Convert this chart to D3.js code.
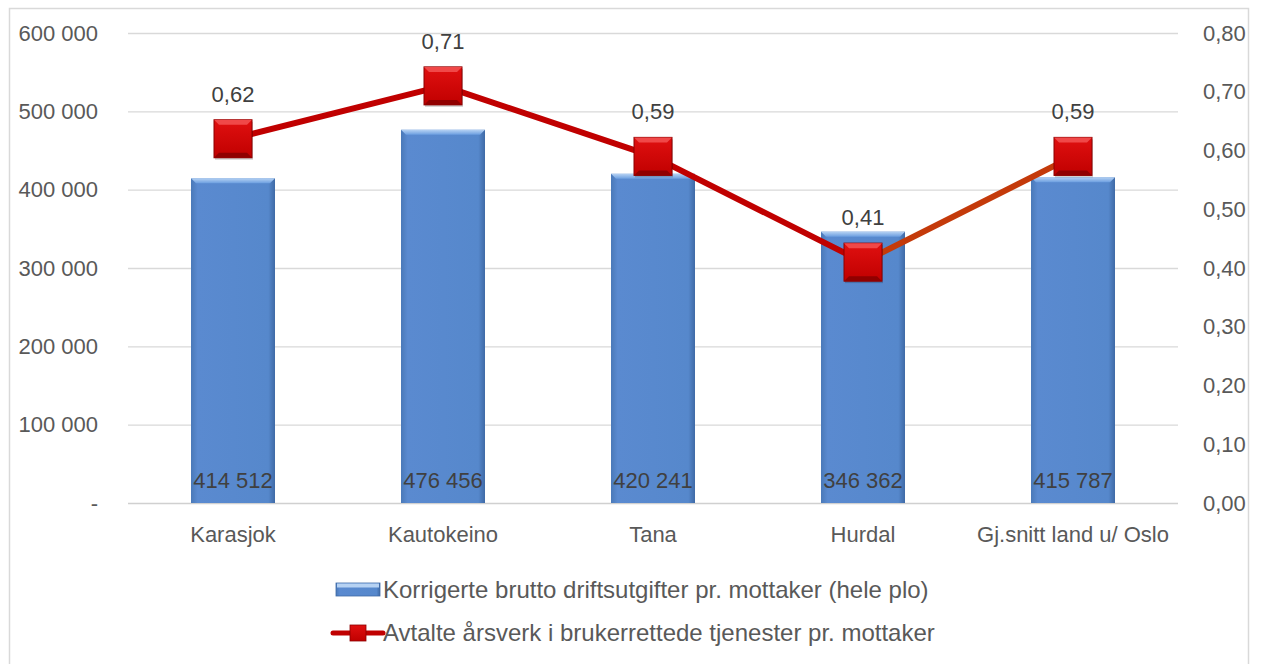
<!DOCTYPE html>
<html>
<head>
<meta charset="utf-8">
<script src="https://cdn.jsdelivr.net/npm/d3@7"></script>
<style>
  body { margin: 0; background: #fff; overflow: hidden; }
  text { font-family: "Liberation Sans", Arial, sans-serif; fill: #595959; }
</style>
</head>
<body>
<div id="chart"></div>
<script>
var categories = ['Karasjok', 'Kautokeino', 'Tana', 'Hurdal', 'Gj.snitt land u/ Oslo'];
var utgifter = [414512, 476456, 420241, 346362, 415787];
var arsverk = [0.62, 0.71, 0.59, 0.41, 0.59];
var leftTicks = [0, 100000, 200000, 300000, 400000, 500000, 600000];
var rightTicks = [0, 0.1, 0.2, 0.3, 0.4, 0.5, 0.6, 0.7, 0.8];
var legendNames = ['Korrigerte brutto driftsutgifter pr. mottaker (hele plo)',
                   'Avtalte årsverk i brukerrettede tjenester pr. mottaker'];

var W = 1263, H = 664;
var plotL = 128, plotR = 1178, plotT = 33, plotB = 503;

var svg = d3.select('#chart').append('svg')
  .attr('width', W).attr('height', H).style('display', 'block');

var defs = svg.append('defs');
var bg = defs.append('linearGradient').attr('id', 'barGrad')
  .attr('x1', 0).attr('x2', 1).attr('y1', 0).attr('y2', 0);
bg.append('stop').attr('offset', '0%').attr('stop-color', '#4a79b8');
bg.append('stop').attr('offset', '8%').attr('stop-color', '#5a8ad0');
bg.append('stop').attr('offset', '92%').attr('stop-color', '#5688cc');
bg.append('stop').attr('offset', '100%').attr('stop-color', '#3f6aa6');
var tg = defs.append('linearGradient').attr('id', 'topGrad')
  .attr('x1', 0).attr('x2', 0).attr('y1', 0).attr('y2', 1);
tg.append('stop').attr('offset', '0%').attr('stop-color', '#b6d2f3');
tg.append('stop').attr('offset', '100%').attr('stop-color', '#6b9ee0');
var mg = defs.append('linearGradient').attr('id', 'mkGrad')
  .attr('x1', 0).attr('x2', 0).attr('y1', 0).attr('y2', 1);
mg.append('stop').attr('offset', '0%').attr('stop-color', '#e01010');
mg.append('stop').attr('offset', '100%').attr('stop-color', '#c00000');

// chart border
svg.append('rect').attr('x', 9.5).attr('y', 8.5).attr('width', 1239).attr('height', 670)
  .attr('fill', 'none').attr('stroke', '#d9d9d9').attr('stroke-width', 1.5);

var x = d3.scaleBand().domain(categories).range([plotL, plotR]).paddingInner(0.6).paddingOuter(0.3);
var xc = d3.scaleBand().domain(categories).range([plotL, plotR]);
var yL = d3.scaleLinear().domain([0, 600000]).range([plotB, plotT]);
var yR = d3.scaleLinear().domain([0, 0.8]).range([plotB, plotT]);

var fmtL = function(d) { return d === 0 ? '-' : d3.format(',')(d).replace(/,/g, ' '); };
var fmtR = function(d) { return d.toFixed(2).replace('.', ','); };

// gridlines
svg.append('g').selectAll('line').data(leftTicks).enter().append('line')
  .attr('x1', plotL).attr('x2', plotR)
  .attr('y1', function(d) { return yL(d) + 0.5; }).attr('y2', function(d) { return yL(d) + 0.5; })
  .attr('stroke', function(d) { return d === 0 ? '#d0d0d0' : '#d9d9d9'; }).attr('stroke-width', 1.3);

// left axis
var axL = svg.append('g').attr('transform', 'translate(' + (plotL - 27) + ',0)')
  .call(d3.axisLeft(yL).tickValues(leftTicks).tickFormat(fmtL).tickSize(0));
axL.select('.domain').remove();
axL.selectAll('text').style('font-size', '22px').attr('fill', '#595959');

// right axis
var axR = svg.append('g').attr('transform', 'translate(' + (plotR + 22) + ',0)')
  .call(d3.axisRight(yR).tickValues(rightTicks).tickFormat(fmtR).tickSize(0));
axR.select('.domain').remove();
axR.selectAll('text').style('font-size', '22px').attr('fill', '#595959');

// x axis labels
var axB = svg.append('g').attr('transform', 'translate(0,' + (plotB + 20) + ')')
  .call(d3.axisBottom(xc).tickSize(0));
axB.select('.domain').remove();
axB.selectAll('text').style('font-size', '22px').attr('fill', '#595959');

// bars
var bars = svg.append('g').selectAll('g').data(categories).enter().append('g');
bars.append('rect')
  .attr('x', function(d) { return x(d); })
  .attr('y', function(d, i) { return yL(utgifter[i]); })
  .attr('width', x.bandwidth())
  .attr('height', function(d, i) { return plotB - yL(utgifter[i]); })
  .attr('fill', 'url(#barGrad)');
bars.append('path')
  .attr('d', function(d, i) {
    var x0 = x(d), x1 = x(d) + x.bandwidth(), y0 = yL(utgifter[i]);
    return 'M' + x0 + ',' + y0 + 'L' + x1 + ',' + y0 + 'L' + (x1 - 5) + ',' + (y0 + 5) +
      'L' + (x0 + 5) + ',' + (y0 + 5) + 'Z';
  })
  .attr('fill', 'url(#topGrad)');
bars.append('text')
  .attr('x', function(d) { return x(d) + x.bandwidth() / 2; })
  .attr('y', plotB - 15)
  .attr('text-anchor', 'middle')
  .style('font-size', '22px').style('fill', '#404040')
  .text(function(d, i) { return fmtL(utgifter[i]); });

// line
var pts = categories.map(function(c, i) { return [xc(c) + xc.bandwidth() / 2, yR(arsverk[i])]; });
var segColors = ['#c00000', '#c00000', '#c00000', '#c43a0a'];
svg.append('g').selectAll('line').data(pts.slice(1)).enter().append('line')
  .attr('x1', function(d, i) { return pts[i][0]; })
  .attr('y1', function(d, i) { return pts[i][1]; })
  .attr('x2', function(d) { return d[0]; })
  .attr('y2', function(d) { return d[1]; })
  .attr('stroke', function(d, i) { return segColors[i]; })
  .attr('stroke-width', 6).attr('stroke-linecap', 'round');

// markers
var s = 38;
var mk = svg.append('g').selectAll('g').data(pts).enter().append('g')
  .attr('transform', function(d) { return 'translate(' + d[0] + ',' + d[1] + ')'; });
mk.append('rect').attr('x', -s / 2 + 1).attr('y', -s / 2 + 2).attr('width', s).attr('height', s)
  .attr('fill', '#000').attr('opacity', 0.18);
mk.append('rect').attr('x', -s / 2).attr('y', -s / 2).attr('width', s).attr('height', s)
  .attr('fill', 'url(#mkGrad)').attr('stroke', '#8c0000').attr('stroke-width', 1);
mk.append('path').attr('d', 'M' + (-s / 2) + ',' + (-s / 2) + 'L' + (s / 2) + ',' + (-s / 2) +
  'L' + (s / 2 - 5) + ',' + (-s / 2 + 5) + 'L' + (-s / 2 + 5) + ',' + (-s / 2 + 5) + 'Z')
  .attr('fill', '#f04848');
mk.append('path').attr('d', 'M' + (-s / 2) + ',' + (s / 2) + 'L' + (s / 2) + ',' + (s / 2) +
  'L' + (s / 2 - 5) + ',' + (s / 2 - 5) + 'L' + (-s / 2 + 5) + ',' + (s / 2 - 5) + 'Z')
  .attr('fill', '#900000');

// line labels
svg.append('g').selectAll('text').data(pts).enter().append('text')
  .attr('x', function(d) { return d[0]; })
  .attr('y', function(d) { return d[1] - 37; })
  .attr('text-anchor', 'middle')
  .style('font-size', '22px').style('fill', '#404040')
  .text(function(d, i) { return fmtR(arsverk[i]); });

// legend
var lg = svg.append('g');
lg.append('rect').attr('x', 336).attr('y', 583).attr('width', 44).attr('height', 13)
  .attr('fill', 'url(#barGrad)').attr('stroke', '#3f6aa6').attr('stroke-width', 0.8);
lg.append('rect').attr('x', 337).attr('y', 583.5).attr('width', 42).attr('height', 4)
  .attr('fill', '#b6d2f3');
lg.append('text').attr('x', 383).attr('y', 598).style('font-size', '24px').text(legendNames[0]);
lg.append('line').attr('x1', 333).attr('x2', 383).attr('y1', 633).attr('y2', 633)
  .attr('stroke', '#c00000').attr('stroke-width', 5).attr('stroke-linecap', 'round');
lg.append('rect').attr('x', 350).attr('y', 625).attr('width', 16).attr('height', 16)
  .attr('fill', 'url(#mkGrad)').attr('stroke', '#8c0000').attr('stroke-width', 0.8);
lg.append('text').attr('x', 383).attr('y', 641).style('font-size', '24px').text(legendNames[1]);
</script>
</body>
</html>
